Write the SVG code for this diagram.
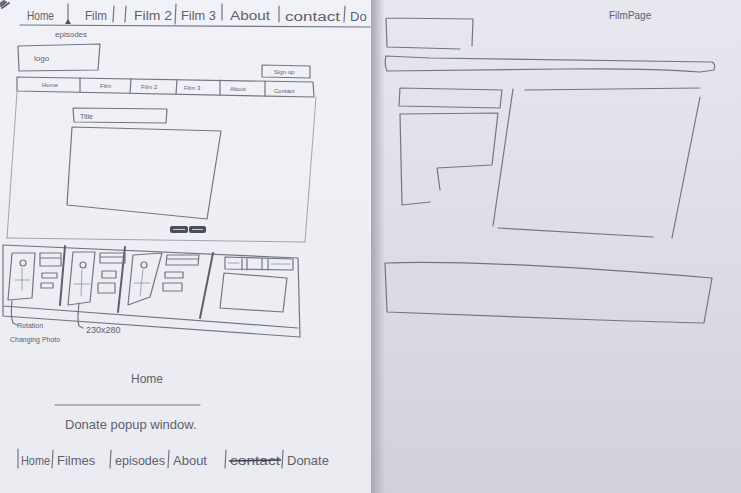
<svg xmlns="http://www.w3.org/2000/svg" width="741" height="493" viewBox="0 0 741 493">
  <defs>
    <linearGradient id="paperL" x1="0" y1="0" x2="0" y2="1">
      <stop offset="0" stop-color="#f1f2f7"/>
      <stop offset="1" stop-color="#e9ebf1"/>
    </linearGradient>
    <linearGradient id="paperR" x1="0" y1="0" x2="0" y2="1">
      <stop offset="0" stop-color="#e6e7ef"/>
      <stop offset="0.5" stop-color="#dcdde6"/>
      <stop offset="1" stop-color="#d0d1db"/>
    </linearGradient>
    <linearGradient id="edgeShade" x1="0" y1="0" x2="1" y2="0">
      <stop offset="0" stop-color="#a9a7b2" stop-opacity="1"/>
      <stop offset="1" stop-color="#a9a7b2" stop-opacity="0"/>
    </linearGradient>
    <clipPath id="leftSheet"><rect x="0" y="0" width="371" height="493"/></clipPath>
    <style>
      .pen { fill: none; stroke: #747583; stroke-width: 1.2; stroke-linejoin: round; stroke-linecap: round; }
      .pen2 { fill: none; stroke: #5e5f6d; stroke-width: 2; stroke-linecap: round; }
      .faint { fill: none; stroke: #9a9ba8; stroke-width: 0.9; stroke-linecap: round; }
      .hand { font-family: "Liberation Sans", "DejaVu Sans", sans-serif; fill: #5f606e; }
    </style>
  </defs>

  <!-- two sheets of paper -->
  <rect x="0" y="0" width="371" height="493" fill="url(#paperL)"/>
  <rect x="371" y="0" width="370" height="493" fill="url(#paperR)"/>
  <rect x="371" y="0" width="14" height="493" fill="url(#edgeShade)"/>

  <!-- ===== Left sheet: Home page ===== -->
  <g id="home-sheet" clip-path="url(#leftSheet)">
    <!-- corner scribble -->
    <path class="pen2" d="M1,6 L6,2 M2,8 L9,3 M0,4 L4,1"/>

    <!-- top handwritten menu -->
    <g id="top-menu">
      <text class="hand" x="27" y="20" font-size="13" textLength="27" lengthAdjust="spacingAndGlyphs">Home</text>
      <text class="hand" x="85" y="20" font-size="13" textLength="22" lengthAdjust="spacingAndGlyphs">Film</text>
      <text class="hand" x="134" y="20" font-size="13" textLength="38" lengthAdjust="spacingAndGlyphs">Film 2</text>
      <text class="hand" x="181" y="20" font-size="13" textLength="35" lengthAdjust="spacingAndGlyphs">Film 3</text>
      <text class="hand" x="230" y="20" font-size="12" textLength="40" lengthAdjust="spacingAndGlyphs">About</text>
      <text class="hand" x="285" y="21" font-size="12" textLength="55" lengthAdjust="spacingAndGlyphs">contact</text>
      <text class="hand" x="350" y="21" font-size="13">Do</text>
      <path class="pen" d="M68,4 L68,21 M114,6 L113,22 M126,6 L125,22 M176,4 L175,24 M222,4 L222,20 M279,6 L279,22 M345,6 L344,22"/>
      <path class="pen" d="M20,25 L370,27"/>
      <path d="M65,24 L68,19 L71,24 Z" fill="#4f505e"/>
      <text class="hand" x="55" y="37" font-size="8">episodes</text>
    </g>

    <!-- logo -->
    <g id="logo">
      <path class="pen" d="M18,46 L100,44 L98,70 L19,71 Z"/>
      <text class="hand" x="34" y="61" font-size="8">logo</text>
    </g>

    <!-- sign up button -->
    <g id="sign-up">
      <path class="pen" d="M262,65 L310,66 L310,78 L262,77 Z"/>
      <text class="hand" x="274" y="74" font-size="6">Sign up</text>
    </g>

    <!-- nav bar -->
    <g id="nav-bar">
      <path class="pen" d="M17,77 L313,82 L314,97 L17,91 Z"/>
      <path class="pen" d="M80,78 L80,92 M131,79 L130,93 M177,80 L176,94 M220,80 L220,95 M265,81 L265,96"/>
      <text class="hand" x="42" y="87" font-size="6">Home</text>
      <text class="hand" x="100" y="88" font-size="6">Film</text>
      <text class="hand" x="141" y="89" font-size="6">Film 2</text>
      <text class="hand" x="184" y="90" font-size="6">Film 3</text>
      <text class="hand" x="230" y="91" font-size="6">About</text>
      <text class="hand" x="274" y="93" font-size="6">Contact</text>
    </g>

    <!-- content area -->
    <g id="content-area">
      <path class="faint" d="M17,92 L7,238 M316,97 L305,242 M7,238 L305,242"/>
    </g>

    <!-- title bar -->
    <g id="title-bar">
      <path class="pen" d="M73,108 L167,109 L166,123 L74,122 Z"/>
      <text class="hand" x="80" y="119" font-size="7">Title</text>
    </g>

    <!-- video frame -->
    <g id="video-frame">
      <path class="pen" d="M72,127 L221,131 L207,219 L67,205 Z"/>
      <rect x="170" y="226" width="18" height="7" rx="2" fill="#4d4e5c"/>
      <rect x="189" y="226" width="17" height="7" rx="2" fill="#4d4e5c"/>
      <path d="M173,229.5 L185,229.5 M192,229.5 L203,229.5" stroke="#c9cad3" stroke-width="1"/>
    </g>

    <!-- bottom strip with four panels -->
    <g id="panel-strip">
      <path class="pen" d="M3,245 L298,258 L300,337 M3,245 L3,316 M3,306 L298,328 M3,316 L300,337"/>
      <path class="pen2" d="M65,246 L60,305 M125,247 L118,312 M213,253 L200,318"/>
    </g>

    <g id="panel-1">
      <path class="pen" d="M12,253 L35,253 L32,298 L8,300 Z"/>
      <circle class="pen" cx="23" cy="263" r="3"/>
      <path class="faint" d="M22,268 L22,290 M15,280 L30,280"/>
      <path class="pen" d="M40,253 L61,253 L61,266 L40,266 Z M41,258 L60,258"/>
      <path class="pen" d="M42,273 L57,273 L57,278 L42,278 Z"/>
      <path class="pen" d="M41,283 L53,283 L53,288 L41,288 Z"/>
    </g>

    <g id="panel-2">
      <path class="pen" d="M73,252 L95,252 L90,302 L68,305 Z"/>
      <circle class="pen" cx="83" cy="265" r="3"/>
      <path class="faint" d="M82,270 L81,296 M74,284 L90,284"/>
      <path class="pen" d="M100,253 L125,253 L125,263 L100,263 Z M101,257 L124,257"/>
      <path class="pen" d="M102,271 L116,271 L116,278 L102,278 Z"/>
      <path class="pen" d="M98,283 L115,283 L115,293 L98,293 Z"/>
    </g>

    <g id="panel-3">
      <path class="pen" d="M133,255 L162,253 L150,297 L128,305 Z"/>
      <circle class="pen" cx="144" cy="265" r="3"/>
      <path class="faint" d="M143,270 L140,296 M134,283 L150,283"/>
      <path class="pen" d="M167,255 L199,255 L198,265 L166,265 Z M167,259 L198,259"/>
      <path class="pen" d="M165,272 L183,272 L183,278 L165,278 Z"/>
      <path class="pen" d="M163,283 L182,283 L182,291 L163,291 Z"/>
    </g>

    <g id="panel-4">
      <path class="pen" d="M225,257 L293,259 L293,270 L225,269 Z M242,257 L242,270 M247,258 L247,270 M262,258 L262,270 M268,258 L268,270"/>
      <path class="faint" d="M228,263 L239,263 M271,264 L290,264"/>
      <path class="pen" d="M224,273 L287,278 L283,312 L220,308 Z"/>
    </g>

    <!-- annotations -->
    <g id="notes">
      <path class="pen" d="M12,301 C11,310 11,318 13,323 L17,325"/>
      <text class="hand" x="17" y="328" font-size="7">Rotation</text>
      <text class="hand" x="10" y="342" font-size="7">Changing Photo</text>
      <path class="pen" d="M79,303 C78,312 77,320 79,326 L83,328"/>
      <text class="hand" x="86" y="333" font-size="9">230x280</text>
    </g>

    <!-- page name and donate note -->
    <text class="hand" x="131" y="383" font-size="12">Home</text>
    <path class="pen" d="M55,405 L200,405"/>
    <text class="hand" x="65" y="429" font-size="13">Donate popup window.</text>

    <!-- revised menu -->
    <g id="menu-revised">
      <path class="pen" d="M18,449 L18,468 M53,450 L52,468 M111,450 L110,468 M169,450 L168,468 M226,450 L225,468 M283,450 L282,468"/>
      <text class="hand" x="21" y="465" font-size="13" textLength="29" lengthAdjust="spacingAndGlyphs">Home</text>
      <text class="hand" x="57" y="465" font-size="13">Filmes</text>
      <text class="hand" x="115" y="465" font-size="13" textLength="50" lengthAdjust="spacingAndGlyphs">episodes</text>
      <text class="hand" x="173" y="465" font-size="13">About</text>
      <text class="hand" x="230" y="465" font-size="13" textLength="50" lengthAdjust="spacingAndGlyphs">contact</text>
      <path d="M229,461 L281,460" stroke="#3f404e" stroke-width="1.6"/>
      <text class="hand" x="287" y="465" font-size="13">Donate</text>
    </g>
  </g>

  <!-- ===== Right sheet: Film page ===== -->
  <g id="film-sheet">
    <text class="hand" x="609" y="19" font-size="10">FilmPage</text>

    <g id="film-logo">
      <path class="pen" d="M386,18 L473,19 L472,46 M386,18 L387,47 L460,49"/>
    </g>

    <g id="film-nav">
      <path class="pen" d="M386,56 L430,58 L712,62 Q716,64 714,70 L700,72 Q650,68 560,69 L387,71 Q384,64 386,56 Z"/>
    </g>

    <g id="film-side-title">
      <path class="pen" d="M400,88 L502,90 L500,108 L399,106 Z"/>
    </g>

    <g id="film-side-panel">
      <path class="pen" d="M400,114 L498,113 L492,165 L437,168 L440,190 M400,114 L402,205 L430,202"/>
    </g>

    <g id="film-main">
      <path class="pen" d="M513,89 L493,226 M525,90 L700,88 M700,97 L672,238 M498,228 L653,237"/>
    </g>

    <g id="film-footer">
      <path class="pen" d="M385,263 Q480,259 712,278 L704,323 Q660,322 600,320 L387,312 Z"/>
    </g>
  </g>
</svg>
